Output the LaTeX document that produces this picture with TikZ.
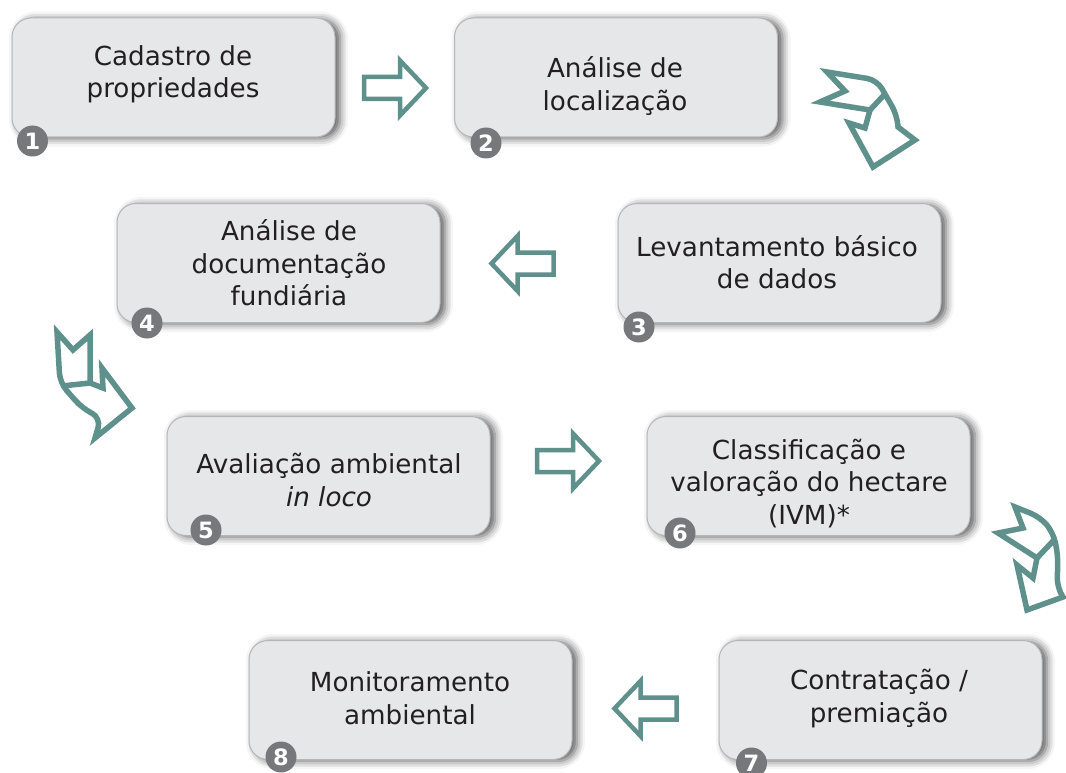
\documentclass[tikz,border=0pt]{standalone}
\usepackage{fontspec}
\setmainfont{DejaVu Sans}
\usetikzlibrary{shadows.blur}
\definecolor{boxfill}{HTML}{E6E7E9}
\definecolor{boxline}{HTML}{B4B6B9}
\definecolor{numgray}{HTML}{77787B}
\definecolor{arrowteal}{HTML}{5F918C}
\definecolor{txt}{HTML}{231F20}
\tikzset{
  blockarrow/.pic={\draw[flow] (-31,-11) -- (5,-11) -- (5,-27.5) -- (31,0) -- (5,27.5) -- (5,11) -- (-31,11) -- cycle;}
}
\begin{document}
\begin{tikzpicture}[x=1pt,y=-1pt,
  box/.style={draw=boxline, line width=1pt, fill=boxfill, rounded corners=19pt,
    minimum width=323pt, minimum height=119pt, inner sep=0pt,
    blur shadow={shadow xshift=5pt, shadow yshift=-1.5pt, shadow blur radius=8pt, shadow opacity=65}},
  lbl/.style={align=center, font=\fontsize{26.2}{32.5}\selectfont, text=txt, inner sep=0pt},
  num/.style={circle, fill=numgray, minimum size=31pt, inner sep=0pt, text=white,
    font=\fontsize{22.5}{22.5}\selectfont\bfseries},
  flow/.style={draw=arrowteal, line width=4.5pt, fill=white, line join=miter},
  bent/.style={draw=arrowteal, line width=5.5pt, fill=white, line join=miter}
  ]
\useasboundingbox (0,0) rectangle (1066,773);

% boxes
\node[box] (b1) at (173.5,77.5) {};
\node[box] (b2) at (616,77.5) {};
\node[box] (b3) at (779.5,263) {};
\node[box] (b4) at (278.5,263) {};
\node[box] (b5) at (328.5,476) {};
\node[box] (b6) at (808.5,476) {};
\node[box] (b7) at (880.5,700) {};
\node[box] (b8) at (410.5,700) {};

% labels
\node[lbl] (t1) at (173,74.5) {Cadastro de\\propriedades};
\node[lbl] (t2) at (615,86) {Análise de\\localização};
\node[lbl] (t3) at (777,262) {Levantamento básico\\de dados};
\node[lbl] (t4) at (289,263) {Análise de\\documentação\\fundiária};
\node[lbl] (t5) at (329,480) {Avaliação ambiental\\\textit{in loco}};
\node[lbl] (t6) at (809,483.5) {Classificação e\\valoração do hectare\\(IVM)*};
\node[lbl] (t7) at (879,698.5) {Contratação /\\premiação};
\node[lbl] (t8) at (410,698) {Monitoramento\\ambiental};

% numbers
\node[num] (n1) at (32.5,141) {1};
\node[num] (n2) at (486,143) {2};
\node[num] (n3) at (639,327) {3};
\node[num] (n4) at (147,323) {4};
\node[num] (n5) at (206,530) {5};
\node[num] (n6) at (680,533) {6};
\node[num] (n7) at (751.5,763) {7};
\node[num] (n8) at (281,757) {8};

% straight block arrows
\pic at (395,88) {blockarrow};
\pic[rotate=180] at (522.5,263.5) {blockarrow};
\pic at (568,461) {blockarrow};
\pic[rotate=180] at (645.5,708.5) {blockarrow};

% bent arrow 2 -> 3
\draw[bent] (827,72) [rounded corners=10pt] -- (877,80) -- (897,115) [sharp corners] -- (898,127)
  -- (915,140) -- (873,167) -- (849,123) -- (865,128) -- (870,110) -- (820,102) -- (845,91) -- cycle;
\draw[bent] (870,110) -- (885,94);

% bent arrow 4 -> 5
\draw[bent] (57,332) [rounded corners=10pt] -- (60,383) -- (82,408) -- (101,418) [sharp corners]
  -- (95,438) -- (132,408) -- (102,368) -- (103,388) -- (90,383) -- (90,335) -- (73,350) -- cycle;
\draw[bent] (90,383) -- (62,386);

% bent arrow 6 -> 7
\draw[bent] (1015,507) [rounded corners=10pt] -- (1040,517) -- (1053,532) -- (1058,555) -- (1057,588) [sharp corners]
  -- (1063,597) -- (1027,610) -- (1017,565) -- (1033,578) -- (1037,558) -- (998,533) -- (1023,528) -- cycle;
\draw[bent] (1037,558) -- (1054,540);
\end{tikzpicture}
\end{document}
